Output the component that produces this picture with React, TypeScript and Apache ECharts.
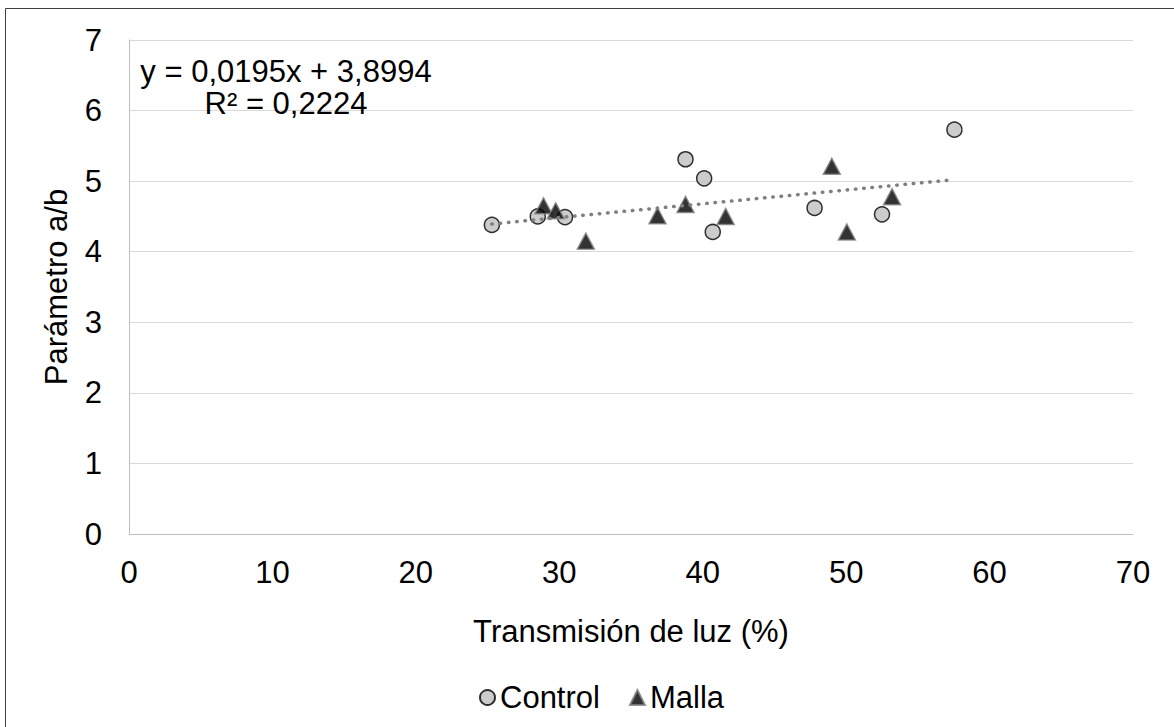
import React, { useEffect, useRef } from "react";
import * as echarts from "echarts";

const controlX = [25.3, 28.5, 30.4, 38.8, 40.1, 40.7, 47.8, 52.5, 57.55];
const controlY = [4.38, 4.5, 4.49, 5.31, 5.04, 4.28, 4.62, 4.53, 5.73];
const mallaX = [28.9, 29.75, 31.85, 36.85, 38.8, 41.6, 49.0, 50.05, 53.2];
const mallaY = [4.65, 4.58, 4.15, 4.51, 4.67, 4.5, 5.21, 4.28, 4.78];
const slope = 0.0195;
const intercept = 3.8994;
const xTicks = [0, 10, 20, 30, 40, 50, 60, 70];
const yTicks = [0, 1, 2, 3, 4, 5, 6, 7];
const equationLines = ["y = 0,0195x + 3,8994", "R² = 0,2224"];

const FONT = "'Liberation Sans', Arial, sans-serif";
const FS = 31;

export default function App() {
  const ref = useRef<HTMLDivElement>(null);
  useEffect(() => {
    document.body.style.margin = "0";
    if (!ref.current) return;
    const chart = echarts.init(ref.current, undefined, { renderer: "svg" });
    const allX = [...controlX, ...mallaX];
    const xmin = Math.min(...allX);
    const xmax = Math.max(...allX);
    const trend = [
      [xmin, slope * xmin + intercept],
      [xmax, slope * xmax + intercept],
    ];
    chart.setOption({
      animation: false,
      backgroundColor: "#ffffff",
      textStyle: { fontFamily: FONT },
      grid: { left: 129, right: 41, top: 40, bottom: 193, containLabel: false },
      xAxis: {
        type: "value",
        min: xTicks[0],
        max: xTicks[xTicks.length - 1],
        interval: 10,
        name: "Transmisión de luz (%)",
        nameLocation: "middle",
        nameGap: 82,
        nameTextStyle: { fontSize: FS, color: "#000", fontFamily: FONT, lineHeight: FS },
        axisLine: { show: true, lineStyle: { color: "#BFBFBF", width: 1 } },
        axisTick: { show: false },
        splitLine: { show: false },
        axisLabel: { fontSize: FS, color: "#000", margin: 23, fontFamily: FONT, lineHeight: FS },
      },
      yAxis: {
        type: "value",
        min: yTicks[0],
        max: yTicks[yTicks.length - 1],
        interval: 1,
        name: "Parámetro a/b",
        nameLocation: "middle",
        nameGap: 57,
        nameRotate: 90,
        nameTextStyle: { fontSize: FS, color: "#000", fontFamily: FONT, lineHeight: FS },
        axisLine: { show: true, lineStyle: { color: "#BFBFBF", width: 1 } },
        axisTick: { show: false },
        splitLine: { show: true, lineStyle: { color: "#D9D9D9", width: 1 } },
        axisLabel: { fontSize: FS, color: "#000", margin: 27, fontFamily: FONT },
      },
      legend: {
        data: ["Control", "Malla"],
        top: 677,
        left: 474,
        itemWidth: 15,
        itemHeight: 15,
        itemGap: 29,
        textStyle: { fontSize: FS, color: "#000", fontFamily: FONT, lineHeight: FS },
      },
      graphic: [
        {
          type: "rect",
          shape: { x: 5.5, y: 8.5, width: 1300, height: 900 },
          style: { fill: "none", stroke: "#404040", lineWidth: 1 },
          silent: true,
          z: -1,
        },
        {
          type: "text",
          x: 286,
          y: 71,
          style: {
            text: equationLines[0],
            fontSize: FS,
            fontFamily: FONT,
            fill: "#000",
            align: "center",
            verticalAlign: "middle",
            lineHeight: FS,
          },
          z: 10,
        },
        {
          type: "text",
          x: 286,
          y: 103,
          style: {
            text: equationLines[1],
            fontSize: FS,
            fontFamily: FONT,
            fill: "#000",
            align: "center",
            verticalAlign: "middle",
            lineHeight: FS,
          },
          z: 10,
        },
      ],
      series: [
        {
          name: "Control",
          type: "scatter",
          symbol: "circle",
          symbolSize: 15,
          data: controlX.map((x, i) => [x, controlY[i]]),
          itemStyle: { color: "#BFBFBF", borderColor: "#000", borderWidth: 1.5 },
          z: 2,
        },
        {
          name: "Malla",
          type: "scatter",
          symbol: "triangle",
          symbolSize: [17, 16],
          data: mallaX.map((x, i) => [x, mallaY[i]]),
          itemStyle: { color: "#000", borderColor: "#808080", borderWidth: 1.5 },
          z: 2,
        },
        {
          name: "Tendencia",
          type: "line",
          data: trend,
          symbol: "none",
          lineStyle: { color: "#7F7F7F", width: 3.5, type: [0.5, 7.8], cap: "round" },
          z: 3,
          silent: true,
        },
      ],
    });
    return () => chart.dispose();
  }, []);
  return <div ref={ref} style={{ width: 1174, height: 727 }} />;
}
